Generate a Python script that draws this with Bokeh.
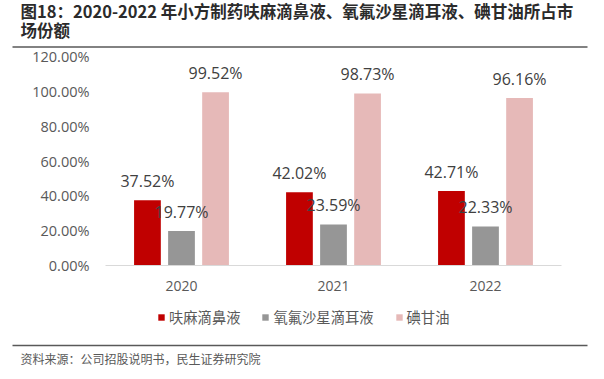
from bokeh.plotting import figure
from bokeh.models import (ColumnDataSource, Range1d, Label, Legend, LegendItem, LinearAxis,
                          BoxAnnotation, FixedTicker, PrintfTickFormatter)
from bokeh.transform import dodge
from bokeh.core.properties import value
from bokeh.embed import file_html
from bokeh.resources import INLINE

years = ["2020", "2021", "2022"]
series_names = ["呋麻滴鼻液", "氧氟沙星滴耳液", "碘甘油"]
furma = [37.52, 42.02, 42.71]
oflox = [19.77, 23.59, 22.33]
iodine = [99.52, 98.73, 96.16]
y_ticks = [0, 20, 40, 60, 80, 100, 120]
title_line1 = "图18：2020-2022 年小方制药呋麻滴鼻液、氧氟沙星滴耳液、碘甘油所占市"
title_line2 = "场份额"
source_text = "资料来源：公司招股说明书，民生证券研究院"

colors = ["#C00000", "#969696", "#E6B9B8"]
offsets = [-0.224, 0.0, 0.224]
NUM_FONT = "Open Sans"
CJK_FONT = "Noto Sans CJK SC"

# canvas geometry (pixels)
W, H = 604, 379
PL, PR, PT, PB = 105, 561, 56, 265          # plot-area edges
cat_px = (PR - PL) / len(years)            # pixels per category
y_per_px = (y_ticks[-1] - y_ticks[0]) / (PB - PT)

x_range = Range1d(-0.5 - PL / cat_px, len(years) - 0.5 + (W - PR) / cat_px)
y_range = Range1d(y_ticks[0] - (H - PB) * y_per_px, y_ticks[-1] + PT * y_per_px)

src = ColumnDataSource(dict(
    xi=list(range(len(years))),
    v0=furma, v1=oflox, v2=iodine,
    l0=["%.2f%%" % v for v in furma],
    l1=["%.2f%%" % v for v in oflox],
    l2=["%.2f%%" % v for v in iodine],
))

p = figure(width=W, height=H, output_backend="svg", toolbar_location=None,
           x_range=x_range, y_range=y_range, x_axis_type=None, y_axis_type=None,
           min_border=0, min_border_left=0, min_border_right=0,
           min_border_top=0, min_border_bottom=0)
p.background_fill_color = "white"
p.border_fill_color = "white"
p.outline_line_color = None
p.xgrid.grid_line_color = None
p.ygrid.grid_line_color = None

renderers = []
for i in range(3):
    r = p.vbar(x=dodge("xi", offsets[i]), top="v%d" % i, bottom=0, width=0.176,
               source=src, fill_color=colors[i], line_color=None)
    renderers.append(r)
for i in range(3):
    p.text(x=dodge("xi", offsets[i]), y="v%d" % i, text="l%d" % i,
           source=src, text_align="center", text_baseline="middle", y_offset=-19.5,
           text_font=value(NUM_FONT), text_font_size="16px", text_color="#404040")

# y axis (value axis) at the left edge of the plot area
yaxis = LinearAxis(fixed_location=-0.5, bounds=(y_ticks[0], y_ticks[-1]),
                   ticker=FixedTicker(ticks=y_ticks),
                   formatter=PrintfTickFormatter(format="%.2f%%"),
                   axis_line_color=None, major_tick_line_color=None,
                   minor_tick_line_color=None, major_tick_out=0, major_tick_in=0,
                   major_label_standoff=16, major_label_text_font=NUM_FONT,
                   major_label_text_font_size="14.5px", major_label_text_color="#595959")
p.add_layout(yaxis, "left")

# x axis (categories) at value 0
xaxis = LinearAxis(fixed_location=0, bounds=(-0.5, len(years) - 0.5),
                   ticker=FixedTicker(ticks=list(range(len(years)))),
                   major_label_overrides={i: y for i, y in enumerate(years)},
                   axis_line_color="#D9D9D9", axis_line_width=1,
                   major_tick_line_color=None, minor_tick_line_color=None,
                   major_tick_out=0, major_tick_in=0, major_label_standoff=15,
                   major_label_text_font=NUM_FONT, major_label_text_font_size="14px",
                   major_label_text_color="#595959")
p.add_layout(xaxis, "below")

legend = Legend(items=[LegendItem(label=series_names[i], renderers=[renderers[i]]) for i in range(3)],
                orientation="horizontal", location=(157, H - 327),
                glyph_width=8, glyph_height=8, label_standoff=4, spacing=21,
                padding=0, margin=0, border_line_color=None, background_fill_alpha=0,
                label_text_font=CJK_FONT, label_text_font_size="14.3px",
                label_text_color="#595959", label_height=20)
p.add_layout(legend, "center")

# title and source (screen units measured from the bottom-left of the canvas-wide frame)
p.add_layout(Label(x=20, y=H - 10, x_units="screen", y_units="screen", text=title_line1,
                   text_font=CJK_FONT, text_font_style="bold", text_font_size="16.5px",
                   text_color="#2b2b2b", text_baseline="middle"))
p.add_layout(Label(x=20, y=H - 29, x_units="screen", y_units="screen", text=title_line2,
                   text_font=CJK_FONT, text_font_style="bold", text_font_size="16.5px",
                   text_color="#2b2b2b", text_baseline="middle"))
p.add_layout(Label(x=20, y=H - 358, x_units="screen", y_units="screen", text=source_text,
                   text_font=CJK_FONT, text_font_size="12px",
                   text_color="#595959", text_baseline="middle"))

# horizontal rules
for yc in (46.5, 345):
    p.add_layout(BoxAnnotation(left=12, right=587, top=yc - 0.8, bottom=yc + 0.8,
                               left_units="canvas", right_units="canvas",
                               top_units="canvas", bottom_units="canvas",
                               fill_color="#595959", fill_alpha=1, line_color=None))

open("out.html", "w").write(file_html(p, INLINE))
